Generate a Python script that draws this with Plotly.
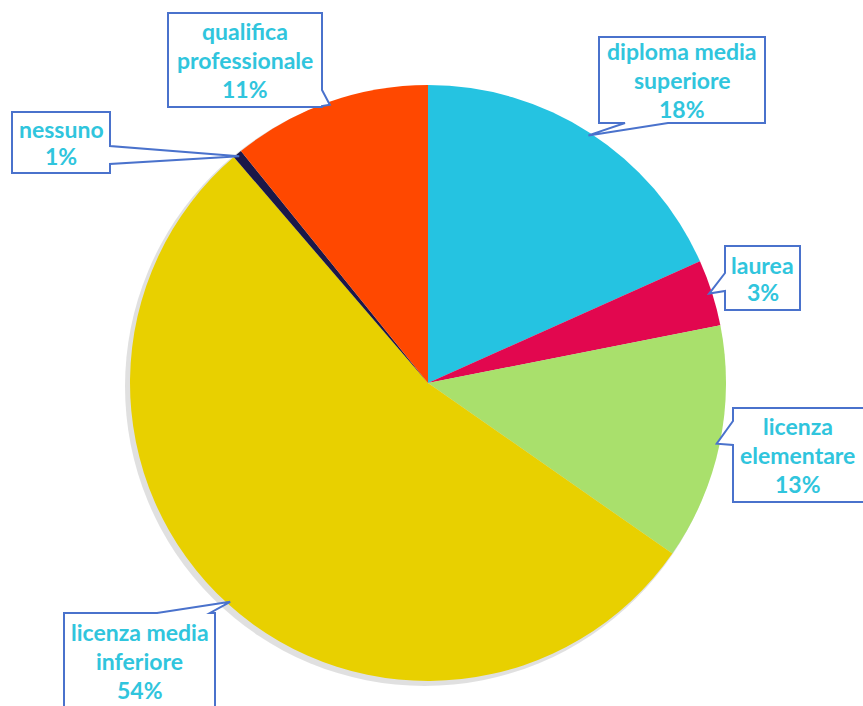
import math
import plotly.graph_objects as go

# ---- data ----
categories = ["diploma media superiore", "laurea", "licenza elementare",
              "licenza media inferiore", "nessuno", "qualifica professionale"]
values = [18.3, 3.6, 12.8, 54.0, 0.5, 10.8]
pct_labels = ["18%", "3%", "13%", "54%", "1%", "11%"]
label_lines = [["diploma media", "superiore"], ["laurea"], ["licenza", "elementare"],
               ["licenza media", "inferiore"], ["nessuno"], ["qualifica", "professionale"]]
colors = ["#25C3E1", "#E2074F", "#A9E06C", "#E8D000", "#1B1848", "#FF4800"]

# ---- layout geometry (pixels) ----
W, H = 863, 706
CX, CY, R = 428, 383, 298
# callout boxes: x0, y0, x1, y1, side of pointer, base a, base b
boxes = [
    (599, 37, 765, 123, "bottom", 625, 668),
    (725, 246, 800, 310, "left", 273, 291),
    (733, 408, 866, 502, "left", 421, 445),
    (64, 613, 215, 712, "top", 210, 157),
    (12, 112, 110, 173, "right", 146, 164),
    (168, 13, 322, 107, "right", 90, 106),
]

fig = go.Figure()

# shadow circle
fig.add_shape(type="circle", xref="x", yref="y",
              x0=CX - R - 5, x1=CX + R - 2, y0=CY - R + 2, y1=CY + R + 5,
              fillcolor="rgba(0,0,0,0.12)", line=dict(width=0), layer="below")

fig.add_trace(go.Pie(
    labels=categories, values=values, sort=False, direction="clockwise",
    rotation=0, marker=dict(colors=colors, line=dict(width=0)),
    textinfo="none", hoverinfo="label+percent", showlegend=False,
    domain=dict(x=[(CX - R) / W, (CX + R) / W],
                y=[(H - CY - R) / H, (H - CY + R) / H]),
))

total = sum(values)
cum = 0.0
text_color = "#30C5DD"
border = "#4A72CC"
for i, v in enumerate(values):
    mid = (cum + v / 2) / total * 2 * math.pi
    cum += v
    tx = CX + (R - 3) * math.sin(mid)
    ty = CY - (R - 3) * math.cos(mid)
    x0, y0, x1, y1, side, a, b = boxes[i]
    if side == "bottom":
        path = f"M{x0},{y0} L{x1},{y0} L{x1},{y1} L{b},{y1} L{tx},{ty} L{a},{y1} L{x0},{y1} Z"
    elif side == "top":
        path = f"M{x0},{y0} L{b},{y0} L{tx},{ty} L{a},{y0} L{x1},{y0} L{x1},{y1} L{x0},{y1} Z"
    elif side == "left":
        path = f"M{x0},{y0} L{x1},{y0} L{x1},{y1} L{x0},{y1} L{x0},{b} L{tx},{ty} L{x0},{a} Z"
    else:  # right
        path = f"M{x0},{y0} L{x1},{y0} L{x1},{a} L{tx},{ty} L{x1},{b} L{x1},{y1} L{x0},{y1} Z"
    fig.add_shape(type="path", path=path, xref="x", yref="y",
                  fillcolor="white", line=dict(color=border, width=2), layer="above")
    lines = label_lines[i] + [pct_labels[i]]
    n = len(lines)
    xc = (x0 + min(x1, W)) / 2
    if i == 2:
        xc = (x0 + 862) / 2
    yc = (y0 + min(y1, 706)) / 2
    if i == 3:
        yc = 661
    step = 29 if n == 3 else 27
    for j, t in enumerate(lines):
        yy = yc + (j - (n - 1) / 2) * step
        fig.add_annotation(x=xc, y=yy, xref="x", yref="y", text=t, showarrow=False,
                           font=dict(family="Lato", size=23, color=text_color, weight="bold"),
                           xanchor="center", yanchor="middle")

fig.update_layout(
    width=W, height=H, margin=dict(l=0, r=0, t=0, b=0),
    paper_bgcolor="white", plot_bgcolor="white",
    xaxis=dict(range=[0, W], visible=False, domain=[0, 1], fixedrange=True),
    yaxis=dict(range=[H, 0], visible=False, domain=[0, 1], fixedrange=True),
    showlegend=False,
)
fig.write_html("out.html", config={"displayModeBar": False},
               post_script="document.body.style.margin='0';document.body.style.overflow='hidden';")
